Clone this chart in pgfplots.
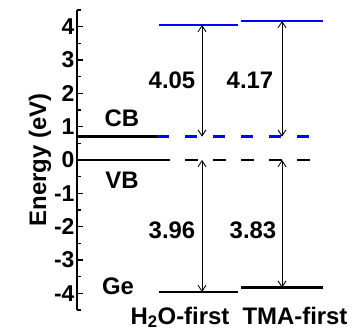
\documentclass[border=0pt]{standalone}
\usepackage{fontspec}
\setmainfont{Liberation Sans}
\usepackage{pgfplots}
\pgfplotsset{compat=1.18}
\usetikzlibrary{arrows.meta,calc}
\definecolor{cbblue}{RGB}{0,0,255}
\begin{document}
\begin{tikzpicture}
\begin{axis}[name=ax,
  scale only axis, width=248bp, height=300bp,
  xmin=0, xmax=248, ymin=-4.5, ymax=4.5,
  axis x line=none,
  axis y line*=left,
  y axis line style={line width=1.8pt},
  ytick={-4,-3,...,4},
  minor ytick={-4.5,-3.5,...,4.5},
  tick align=inside,
  major tick length=6bp, minor tick length=4bp,
  every tick/.style={line width=1.5pt, black},
  yticklabel style={font=\fontsize{23}{25}\selectfont\bfseries, xshift=1bp},
  /pgf/number format/assume math mode=true,
  ylabel={Energy (eV)},
  ylabel style={font=\fontsize{24}{26}\selectfont\bfseries, yshift=-4bp},
  clip=false,
]
% Ge bands
\addplot[black, line width=2.7pt] coordinates {(0,0.7) (80,0.7)};
\addplot[black, line width=2.7pt] coordinates {(0,0) (80,0)};
% dashed lines
\addplot[cbblue, line width=2.7pt, dash pattern=on 12bp off 16bp] coordinates {(80,0.7) (236,0.7)};
\addplot[black, line width=2.7pt, dash pattern=on 13bp off 15bp] coordinates {(80,0) (238,0)};
% H2O-first
\addplot[cbblue, line width=2.7pt] coordinates {(82,4.05) (161,4.05)};
\addplot[black, line width=2.7pt] coordinates {(82,-3.96) (161,-3.96)};
% TMA-first
\addplot[cbblue, line width=2.7pt] coordinates {(164,4.17) (246,4.17)};
\addplot[black, line width=2.7pt] coordinates {(164,-3.83) (246,-3.83)};
% arrows
\addplot[black, line width=0.9pt, {Straight Barb[length=6bp,width=8bp]}-{Straight Barb[length=6bp,width=8bp]}] coordinates {(125,4.05) (125,0.7)};
\addplot[black, line width=0.9pt, {Straight Barb[length=6bp,width=8bp]}-{Straight Barb[length=6bp,width=8bp]}] coordinates {(125,0) (125,-3.96)};
\addplot[black, line width=0.9pt, {Straight Barb[length=6bp,width=8bp]}-{Straight Barb[length=6bp,width=8bp]}] coordinates {(205,4.17) (205,0.7)};
\addplot[black, line width=0.9pt, {Straight Barb[length=6bp,width=8bp]}-{Straight Barb[length=6bp,width=8bp]}] coordinates {(205,0) (205,-3.83)};
% labels
\begin{scope}[every node/.style={font=\fontsize{24}{26}\selectfont\bfseries, inner sep=0pt}]
\node at (axis cs:95,2.4) {4.05};
\node at (axis cs:173,2.4) {4.17};
\node at (axis cs:95,-2.1) {3.96};
\node at (axis cs:176,-2.1) {3.83};
\node at (axis cs:45,1.25) {CB};
\node at (axis cs:45,-0.6) {VB};
\node at (axis cs:41,-3.8) {Ge};
\node[anchor=base, yshift=-14bp] at (axis cs:103,-4.5) {H\textsubscript{2}O-first};
\node[anchor=base, yshift=-14bp] at (axis cs:218,-4.5) {TMA-first};
\end{scope}
\end{axis}
\pgfresetboundingbox
\path ($(ax.south west)+(-77bp,-21bp)$) rectangle ($(ax.north east)+(27bp,10bp)$);
\end{tikzpicture}
\end{document}
